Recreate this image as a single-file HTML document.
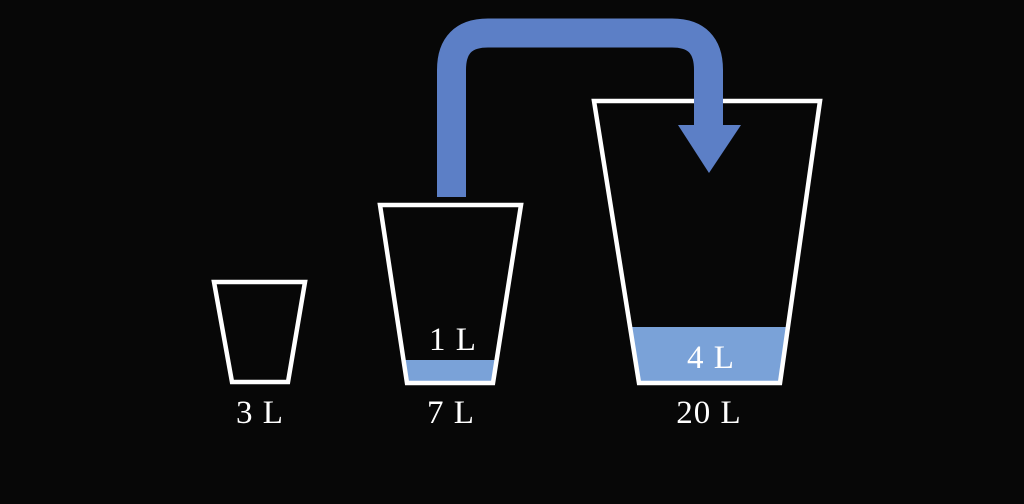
<!DOCTYPE html>
<html><head><style>
html,body{margin:0;padding:0;background:#070707;}
svg{display:block;}
text{font-family:"Liberation Serif",serif;fill:#fff;font-size:33px;letter-spacing:1px;}
</style></head><body>
<svg width="1024" height="504" viewBox="0 0 1024 504">
<rect width="1024" height="504" fill="#070707"/>
<polygon points="403.5,360 496.6,360 493,382 407,382" fill="#7aa2d8"/>
<polygon points="630,327 788,327 780,382 639,382" fill="#7aa2d8"/>
<polygon points="214,282 305,282 288,382 232,382" fill="none" stroke="#fff" stroke-width="4.5"/>
<polygon points="380,205 521,205 493,383 407,383" fill="none" stroke="#fff" stroke-width="4.5"/>
<polygon points="594,101 820,101 780,383 639,383" fill="none" stroke="#fff" stroke-width="4.5"/>
<path d="M451.5,197 L451.5,70 Q451.5,33 488,33 L672,33 Q708.5,33 708.5,70 L708.5,126" fill="none" stroke="#5c7fc6" stroke-width="29"/>
<polygon points="678,125 741,125 709,173" fill="#5c7fc6"/>
<text x="260" y="423" text-anchor="middle">3 L</text>
<text x="451" y="423" text-anchor="middle">7 L</text>
<text x="709" y="423" text-anchor="middle">20 L</text>
<text x="453" y="350" text-anchor="middle">1 L</text>
<text x="711" y="368" text-anchor="middle">4 L</text>
</svg>
</body></html>
